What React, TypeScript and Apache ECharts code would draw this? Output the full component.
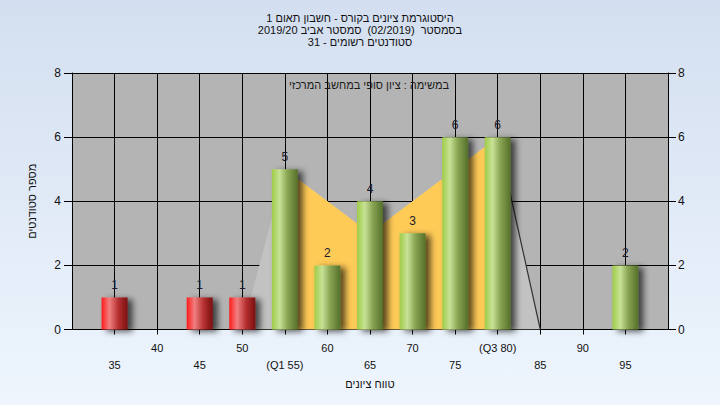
import React, { useEffect, useRef } from "react";
import * as echarts from "echarts";

const titleLines = [
  "היסטוגרמת ציונים בקורס - חשבון תאום 1",
  "בסמסטר  (02/2019)  סמסטר אביב 2019/20",
  "סטודנטים רשומים - 31",
];
const innerSubtitle = "במשימה : ציון סופי במחשב המרכזי";
const yAxisTitle = "מספר סטודנטים";
const xAxisTitle = "טווח ציונים";

const xTickValues = [35, 40, 45, 50, 55, 60, 65, 70, 75, 80, 85, 90, 95];
const xTickLabels = ["35", "40", "45", "50", "(Q1 55)", "60", "65", "70", "75", "(Q3 80)", "85", "90", "95"];

const gradeBins = [35, 45, 50, 55, 60, 65, 70, 75, 80, 95];
const studentCounts = [1, 1, 1, 5, 2, 4, 3, 6, 6, 2];
const passGrade = 55;

const outerPolygonX = [50, 55, 65, 80, 85];
const outerPolygonY = [0, 5, 3, 6, 0];
const quartileAreaX = [55, 65, 80];
const quartileAreaY = [5, 3, 6];
const tailLineX = [80, 85];
const tailLineY = [6, 0];

const FONT = "'Liberation Sans', Arial, sans-serif";

export default function App() {
  const ref = useRef<HTMLDivElement>(null);
  useEffect(() => {
    document.body.style.margin = "0";
    const chart = echarts.init(ref.current!, null, { renderer: "svg" });
    const green = new echarts.graphic.LinearGradient(0, 0, 1, 0, [
      { offset: 0, color: "#9fcc48" },
      { offset: 0.3, color: "#c7e296" },
      { offset: 0.6, color: "#89a553" },
      { offset: 1, color: "#546f2a" },
    ]);
    const red = new echarts.graphic.LinearGradient(0, 0, 1, 0, [
      { offset: 0, color: "#ff1a1a" },
      { offset: 0.3, color: "#f08080" },
      { offset: 0.65, color: "#b53030" },
      { offset: 1, color: "#7a1010" },
    ]);
    const barData = gradeBins.map((g, i) => ({
      value: [g, studentCounts[i]],
      itemStyle: { color: g < passGrade ? red : green },
    }));
    const zip = (xs: number[], ys: number[]) => xs.map((x, i) => [x, ys[i]]);
    chart.setOption({
      animation: false,
      backgroundColor: new echarts.graphic.LinearGradient(0, 0, 0, 1, [
        { offset: 0, color: "#d3dff0" },
        { offset: 1, color: "#eef5fd" },
      ]),
      textStyle: { fontFamily: FONT },
      title: {
        text: titleLines.join("\n"),
        left: "center",
        top: 7,
        textStyle: { fontSize: 11, fontWeight: "normal", color: "#111", lineHeight: 12, fontFamily: FONT },
      },
      graphic: [
        {
          type: "text",
          x: 369,
          y: 85,
          style: {
            text: innerSubtitle,
            fill: "#1a1a1a",
            font: `11px ${FONT}`,
            textAlign: "center",
            textVerticalAlign: "middle",
          },
          z: 10,
        },
      ],
      grid: {
        left: 72,
        right: 52,
        top: 73,
        bottom: 75.5,
        show: true,
        backgroundColor: "#b4b4b4",
        borderWidth: 0,
      },
      xAxis: {
        type: "value",
        min: 30,
        max: 100,
        interval: 5,
        name: xAxisTitle,
        nameLocation: "middle",
        nameGap: 43,
        nameTextStyle: { fontSize: 11, color: "#111", fontFamily: FONT },
        axisLine: { lineStyle: { color: "#000", width: 1 } },
        axisTick: { show: true, length: 5, lineStyle: { color: "#000" } },
        splitLine: { show: true, lineStyle: { color: "#000", width: 1 } },
        axisLabel: {
          showMinLabel: false,
          showMaxLabel: false,
          margin: 10,
          fontSize: 11,
          lineHeight: 17,
          color: "#111",
          fontFamily: FONT,
          formatter: (v: number) => {
            const i = xTickValues.indexOf(v);
            if (i < 0) return "";
            return (v / 5) % 2 === 1 ? "\n" + xTickLabels[i] : xTickLabels[i];
          },
        },
      },
      yAxis: [
        {
          type: "value",
          min: 0,
          max: 8,
          interval: 2,
          position: "left",
          name: yAxisTitle,
          nameLocation: "middle",
          nameGap: 35,
          nameTextStyle: { fontSize: 11, color: "#111", fontFamily: FONT },
          axisLine: { show: true, lineStyle: { color: "#000" } },
          axisTick: { show: true, length: 8, lineStyle: { color: "#000" } },
          splitLine: { show: true, lineStyle: { color: "#000", width: 1 } },
          axisLabel: { fontSize: 12, color: "#111", margin: 11, fontFamily: FONT },
        },
        {
          type: "value",
          min: 0,
          max: 8,
          interval: 2,
          position: "right",
          axisLine: { show: true, lineStyle: { color: "#000" } },
          axisTick: { show: true, length: 8, lineStyle: { color: "#000" } },
          splitLine: { show: false },
          axisLabel: { fontSize: 12, color: "#111", margin: 10, fontFamily: FONT },
        },
      ],
      series: [
        {
          type: "line",
          data: zip(outerPolygonX, outerPolygonY),
          symbol: "none",
          lineStyle: { width: 0 },
          areaStyle: { color: "#c2c2c2", opacity: 1 },
          z: 1,
          silent: true,
        },
        {
          type: "line",
          data: zip(quartileAreaX, quartileAreaY),
          symbol: "none",
          lineStyle: { width: 0 },
          areaStyle: { color: "#ffcb57", opacity: 1 },
          z: 2,
          silent: true,
        },
        {
          type: "line",
          data: zip(tailLineX, tailLineY),
          symbol: "none",
          lineStyle: { width: 1.2, color: "#333" },
          z: 3,
          silent: true,
        },
        {
          type: "bar",
          data: barData,
          barWidth: 26,
          z: 4,
          itemStyle: {
            shadowColor: "rgba(0,0,0,0.65)",
            shadowBlur: 6,
            shadowOffsetX: 5,
            shadowOffsetY: 2,
          },
          label: {
            show: true,
            position: "top",
            distance: 6,
            fontSize: 12,
            color: "#1a1a2a",
            fontFamily: FONT,
            formatter: (p: any) => String(p.value[1]),
          },
        },
      ],
    });
    return () => chart.dispose();
  }, []);
  return <div ref={ref} style={{ width: 720, height: 405 }} />;
}
